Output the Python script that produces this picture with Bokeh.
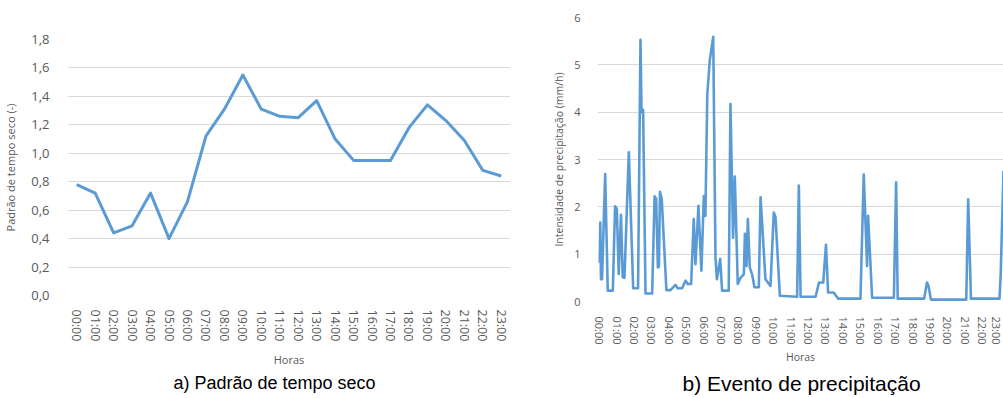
from bokeh.plotting import figure
from bokeh.layouts import row
from bokeh.models import FixedTicker, CustomJSTickFormatter, Range1d
from bokeh.embed import file_html
from bokeh.resources import INLINE

# ---- data: chart a) dry weather pattern (hourly) ----
hours = list(range(24))
dry_pattern = [0.78, 0.72, 0.44, 0.49, 0.72, 0.40, 0.66, 1.12, 1.31, 1.55, 1.31, 1.26,
               1.25, 1.37, 1.10, 0.95, 0.95, 0.95, 1.18, 1.34, 1.23, 1.09, 0.88, 0.84]
dry_yticks = [0.0, 0.2, 0.4, 0.6, 0.8, 1.0, 1.2, 1.4, 1.6, 1.8]

# ---- data: chart b) rainfall event (time in hours, intensity mm/h) ----
rain_hours = [0.00, 0.03, 0.07, 0.13, 0.31, 0.46, 0.75, 0.88, 0.98, 1.09, 1.22, 1.32, 1.42,
              1.67, 1.92, 2.20, 2.34, 2.40, 2.49, 2.63, 3.01, 3.15, 3.24, 3.34, 3.40, 3.46,
              3.56, 3.83, 4.06, 4.35, 4.48, 4.73, 4.93, 5.06, 5.25, 5.40, 5.50, 5.67, 5.84,
              5.98, 6.07, 6.18, 6.32, 6.52, 6.65, 6.73, 6.92, 7.03, 7.41, 7.51, 7.66, 7.76,
              7.93, 8.09, 8.28, 8.34, 8.43, 8.51, 8.62, 8.75, 8.89, 9.14, 9.24, 9.52, 9.66,
              9.81, 10.00, 10.10, 10.35, 11.34, 11.44, 11.54, 12.40, 12.60, 12.84, 13.00,
              13.12, 13.44, 13.70, 14.98, 15.17, 15.36, 15.42, 15.65, 16.90, 17.03, 17.12,
              18.64, 18.80, 18.89, 19.03, 21.06, 21.17, 21.33, 22.97, 23.04, 23.20]
rain_values = [0.82, 1.67, 0.47, 0.47, 2.69, 0.23, 0.23, 2.01, 1.96, 0.58, 1.83, 0.51, 0.50,
               3.15, 0.28, 0.28, 5.53, 4.00, 4.05, 0.17, 0.17, 2.22, 2.17, 0.72, 0.74, 2.32,
               2.17, 0.24, 0.24, 0.35, 0.28, 0.28, 0.44, 0.37, 0.37, 1.74, 0.79, 2.02, 0.65,
               2.23, 1.81, 4.38, 5.09, 5.59, 0.93, 0.47, 0.90, 0.23, 0.23, 4.17, 1.35, 2.64,
               0.37, 0.50, 0.58, 1.43, 0.75, 1.74, 0.72, 0.58, 0.30, 0.30, 2.20, 0.47, 0.40,
               0.33, 1.88, 1.78, 0.12, 0.10, 2.45, 0.10, 0.10, 0.40, 0.40, 1.20,
               0.19, 0.19, 0.06, 0.06, 2.68, 0.75, 1.81, 0.08, 0.08, 2.52, 0.06,
               0.06, 0.40, 0.33, 0.04, 0.04, 2.16, 0.06, 0.06, 0.58, 2.76]
rain_yticks = [0, 1, 2, 3, 4, 5, 6]

LINE = "#5B9BD5"
GRID = "#D9D9D9"
TXT = "#595959"
FONT = "Open Sans"

hour_fmt = CustomJSTickFormatter(code="return (tick < 10 ? '0' : '') + tick + ':00';")


def style(p, tick_size, label_size, title_size):
    for ax in (p.xaxis[0], p.yaxis[0]):
        ax.axis_line_color = None
        ax.major_tick_line_color = None
        ax.minor_tick_line_color = None
        ax.major_label_text_color = TXT
        ax.major_label_text_font = FONT
        ax.major_label_text_font_size = tick_size
        ax.axis_label_text_color = TXT
        ax.axis_label_text_font = FONT
        ax.axis_label_text_font_size = label_size
        ax.axis_label_text_font_style = "normal"
    p.xgrid.grid_line_color = None
    p.ygrid.grid_line_color = GRID
    p.ygrid.grid_line_width = 1
    p.outline_line_color = None
    p.xaxis.major_label_orientation = "vertical"
    p.title.text_font = "Liberation Sans"
    p.title.text_font_size = title_size
    p.title.text_font_style = "normal"
    p.title.text_color = "#000000"
    p.title.align = "left"


# ---- chart a ----
p1 = figure(width=512, height=398, output_backend="svg", toolbar_location=None,
            x_range=Range1d(-0.5, 23.5), y_range=Range1d(0, 1.8), frame_align=False,
            min_border_left=57, min_border_right=2, min_border_top=39, min_border_bottom=103,
            title="a)  Padrão de tempo seco", title_location="below")
p1.line(hours, dry_pattern, line_color=LINE, line_width=3, line_join="round")
p1.xaxis.ticker = FixedTicker(ticks=hours)
p1.xaxis.formatter = hour_fmt
p1.yaxis.ticker = FixedTicker(ticks=dry_yticks)
p1.yaxis.formatter = CustomJSTickFormatter(code="return tick.toFixed(1).replace('.', ',');")
p1.xaxis.axis_label = "Horas"
p1.yaxis.axis_label = "Padrão de tempo seco (-)"
style(p1, "12.5px", "11px", "18px")
p1.yaxis.major_label_text_font_size = "13px"
p1.xaxis.major_label_standoff = 8
p1.xaxis.axis_label_standoff = 8
p1.yaxis.major_label_standoff = 12
p1.yaxis.axis_label_standoff = 10
p1.title.standoff = 1
p1.title.offset = 106

# ---- chart b ----
p2 = figure(width=491, height=398, output_backend="svg", toolbar_location=None,
            x_range=Range1d(-0.13, 23.2), y_range=Range1d(0, 6), frame_align=False,
            min_border_left=85, min_border_right=0, min_border_top=17, min_border_bottom=97,
            title="b) Evento de precipitação", title_location="below")
p2.line(rain_hours, rain_values, line_color=LINE, line_width=2.6, line_join="round")
p2.xaxis.ticker = FixedTicker(ticks=hours)
p2.xaxis.formatter = hour_fmt
p2.yaxis.ticker = FixedTicker(ticks=rain_yticks)
p2.xaxis.axis_label = "Horas"
p2.yaxis.axis_label = "Intensidade de precipitação (mm/h)"
style(p2, "11px", "10.5px", "21px")
p2.xaxis.major_label_standoff = 9
p2.xaxis.axis_label_standoff = 2
p2.yaxis.major_label_standoff = 11
p2.title.standoff = 7
p2.title.offset = 85

layout = row(p1, p2)
open("out.html", "w").write(file_html(layout, INLINE))
